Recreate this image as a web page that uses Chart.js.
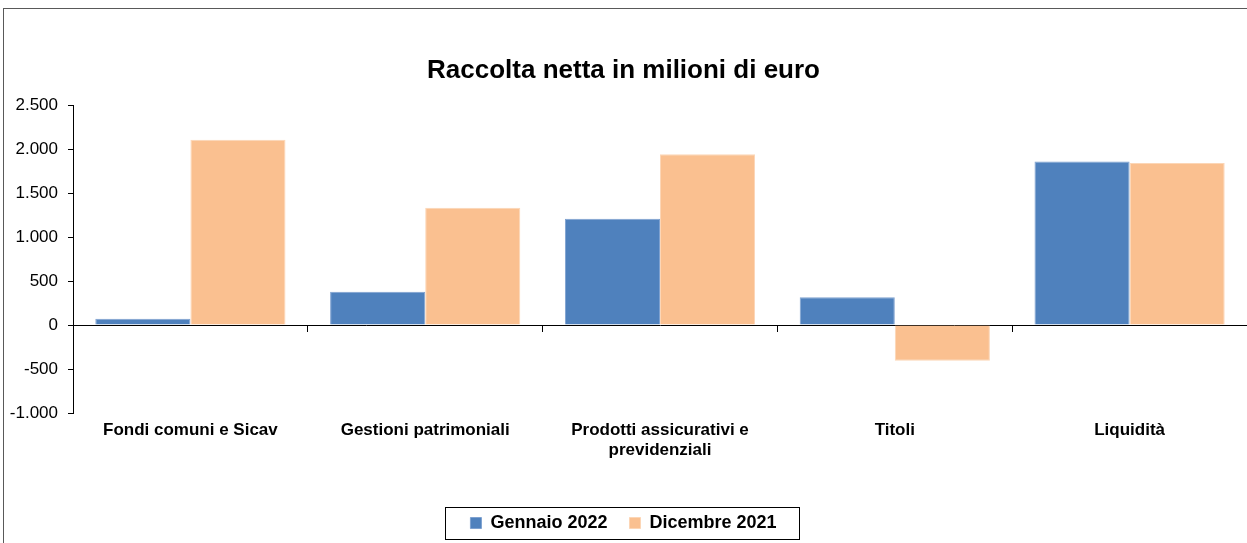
<!DOCTYPE html>
<html>
<head>
<meta charset="utf-8">
<script src="https://cdn.jsdelivr.net/npm/chart.js@4.4.0/dist/chart.umd.min.js"></script>
<style>
  body { margin: 0; background: #fff; }
  #wrap { position: relative; width: 1247px; height: 543px; }
</style>
</head>
<body>
<div id="wrap"><canvas id="myChart"></canvas></div>
<script>
const categories = [
  'Fondi comuni e Sicav',
  'Gestioni patrimoniali',
  ['Prodotti assicurativi e', 'previdenziali'],
  'Titoli',
  'Liquidità'
];
const gennaio2022 = [72, 378, 1208, 314, 1859];
const dicembre2021 = [2106, 1332, 1939, -405, 1841];
const yTicks = { min: -1000, max: 2500, step: 500 };

const FONT = 'Liberation Sans, Arial, sans-serif';

function fmt(v) {
  const s = Math.abs(v).toString().replace(/\B(?=(\d{3})+(?!\d))/g, '.');
  return (v < 0 ? '-' : '') + s;
}

// outer frame + box around the legend
const framePlugin = {
  id: 'frame',
  afterDraw(chart) {
    const c = chart.ctx;
    c.save();
    c.strokeStyle = '#595959';
    c.lineWidth = 1;
    c.strokeRect(3.5, 8.5, 1300, 600);

    const boxes = chart.legend.legendHitBoxes;
    if (boxes && boxes.length) {
      let l = Infinity, r = -Infinity, t = Infinity, b = -Infinity;
      boxes.forEach(h => {
        l = Math.min(l, h.left);
        r = Math.max(r, h.left + h.width);
        t = Math.min(t, h.top);
        b = Math.max(b, h.top + h.height);
      });
      const mid = (t + b) / 2;
      c.strokeStyle = '#000';
      c.strokeRect(Math.round(l - 25) + 0.5, Math.round(mid - 16) + 0.5, Math.round(r - l + 48), 32);
    }
    c.restore();
  }
};

const ctx = document.getElementById('myChart').getContext('2d');
const data = {
  labels: categories,
  datasets: [{
    label: 'Gennaio 2022',
    data: gennaio2022,
    backgroundColor: '#4F81BD',
    borderColor: '#7EA1D0',
    borderWidth: 1,
    categoryPercentage: 0.81,
    barPercentage: 1.0
  }, {
    label: 'Dicembre 2021',
    data: dicembre2021,
    backgroundColor: '#FAC090',
    borderColor: '#FCD6B6',
    borderWidth: 1,
    categoryPercentage: 0.81,
    barPercentage: 1.0
  }]
};

const config = {
  type: 'bar',
  data: data,
  plugins: [framePlugin],
  options: {
    responsive: true,
    maintainAspectRatio: false,
    animation: false,
    layout: {
      padding: { top: 0, left: 0, right: 0, bottom: 1 }
    },
    scales: {
      x: {
        position: 'bottom',
        border: { display: false },
        grid: { display: false, drawTicks: false },
        ticks: {
          color: '#000',
          padding: 7,
          autoSkip: false,
          maxRotation: 0,
          font: { family: FONT, size: 17, weight: 'bold' }
        },
        afterFit: function(scale) { scale.height = 79; }
      },
      zero: {
        axis: 'x',
        type: 'category',
        position: { y: 0 },
        offset: true,
        border: { display: true, color: '#000', width: 1 },
        grid: {
          offset: true,
          drawOnChartArea: false,
          drawTicks: true,
          tickLength: 6,
          color: '#000'
        },
        ticks: { display: false }
      },
      y: {
        min: yTicks.min,
        max: yTicks.max,
        border: { display: true, color: '#000', width: 1 },
        grid: {
          drawOnChartArea: false,
          drawTicks: true,
          tickLength: 5,
          color: '#000'
        },
        ticks: {
          stepSize: yTicks.step,
          color: '#000',
          padding: 10,
          font: { family: FONT, size: 17 },
          callback: function(value) { return fmt(value); }
        },
        afterFit: function(scale) { scale.width = 73; }
      }
    },
    plugins: {
      title: {
        display: true,
        text: 'Raccolta netta in milioni di euro',
        color: '#000',
        font: { family: FONT, size: 26, weight: 'bold' },
        padding: { top: 55, bottom: 18.8 }
      },
      legend: {
        position: 'bottom',
        labels: {
          color: '#000',
          boxWidth: 11,
          boxHeight: 11,
          padding: 22,
          font: { family: FONT, size: 18, weight: 'bold' }
        }
      },
      tooltip: { enabled: false }
    }
  }
};

const myChart = new Chart(ctx, config);
</script>
</body>
</html>
